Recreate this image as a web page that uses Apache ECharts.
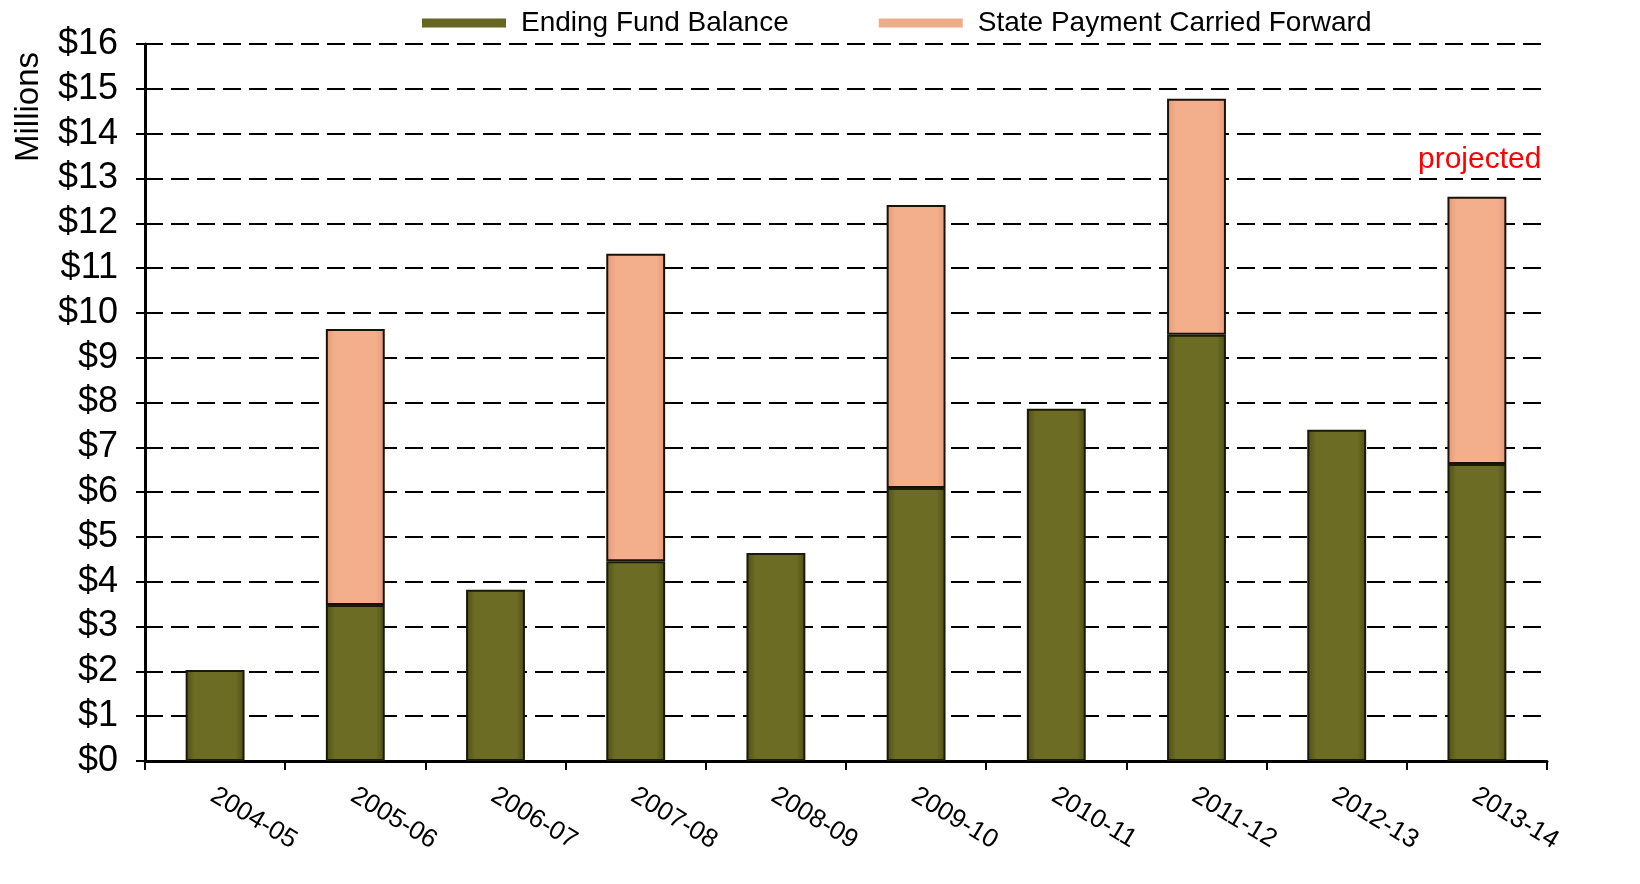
<!DOCTYPE html>
<html>
<head>
<meta charset="utf-8">
<script src="https://cdn.jsdelivr.net/npm/echarts@6/dist/echarts.min.js"></script>
<style>
html,body{margin:0;padding:0;background:#fff;}
#chart{width:1640px;height:884px;}
</style>
</head>
<body>
<div id="chart"></div>
<script>
const categories = ['2004-05','2005-06','2006-07','2007-08','2008-09','2009-10','2010-11','2011-12','2012-13','2013-14'];
const endingFundBalance = [2.03, 3.48, 3.82, 4.46, 4.64, 6.09, 7.86, 9.51, 7.39, 6.63];
const statePaymentCarriedForward = [0, 6.16, 0, 6.86, 0, 6.32, 0, 5.27, 0, 5.96];
const yTicks = [0,1,2,3,4,5,6,7,8,9,10,11,12,13,14,15,16];

const FONT = 'Liberation Sans, Arial, sans-serif';

function grad(c1, c2) {
  return new echarts.graphic.LinearGradient(0, 0, 1, 0, [
    {offset: 0, color: c2}, {offset: 0.15, color: c1}, {offset: 0.85, color: c1}, {offset: 1, color: c2}
  ]);
}

const chart = echarts.init(document.getElementById('chart'));
chart.setOption({
  animation: false,
  backgroundColor: '#fff',
  grid: {left: 145, right: 93, top: 44, bottom: 123, containLabel: false, outerBoundsMode: 'none'},
  legend: {
    top: 4, left: 417,
    itemWidth: 84, itemHeight: 9, itemGap: 90,
    icon: 'rect',
    textStyle: {fontFamily: FONT, fontSize: 28, color: '#000', padding: [0,0,0,10]},
    data: [
      {name: 'Ending Fund Balance', itemStyle: {color: '#676722', borderWidth: 0}},
      {name: 'State Payment Carried Forward', itemStyle: {color: '#eeac88', borderWidth: 0}}
    ]
  },
  xAxis: {
    type: 'category',
    data: categories,
    axisLine: {lineStyle: {color: '#000', width: 3}},
    axisTick: {show: true, length: 9, lineStyle: {color: '#000', width: 2}},
    axisLabel: {rotate: -31, fontFamily: FONT, fontSize: 26, color: '#000', margin: 19, align: 'left', verticalAlign: 'top', padding: [0,0,0,5]},
    splitLine: {show: false}
  },
  yAxis: {
    type: 'value',
    min: 0, max: 16, interval: 1,
    axisLine: {show: true, lineStyle: {color: '#000', width: 3}},
    axisTick: {show: true, length: 9, lineStyle: {color: '#000', width: 2}},
    axisLabel: {fontFamily: FONT, fontSize: 36, color: '#000', margin: 27, formatter: v => '$' + v},
    splitLine: {show: true, lineStyle: {color: '#000', width: 2, type: [18, 8]}}
  },
  series: [
    {
      name: 'Ending Fund Balance', type: 'bar', stack: 'total', barWidth: '42%',
      data: endingFundBalance,
      itemStyle: {color: grad('#6c6c24', '#4e4e16'), borderColor: '#1a1a08', borderWidth: 2}
    },
    {
      name: 'State Payment Carried Forward', type: 'bar', stack: 'total', barWidth: '42%',
      data: statePaymentCarriedForward.map(v => v === 0 ? null : v),
      itemStyle: {color: grad('#f3ae8b', '#e49a76'), borderColor: '#1a1208', borderWidth: 2}
    }
  ],
  graphic: [
    {type: 'text', left: 1418, top: 145, style: {text: 'projected', fontFamily: FONT, fontSize: 30, fill: '#ff0000'}},
    {type: 'text', x: 12, y: 162, rotation: Math.PI / 2, style: {text: 'Millions', fontFamily: FONT, fontSize: 33, fill: '#000', align: 'left', verticalAlign: 'top'}}
  ]
});
</script>
</body>
</html>
